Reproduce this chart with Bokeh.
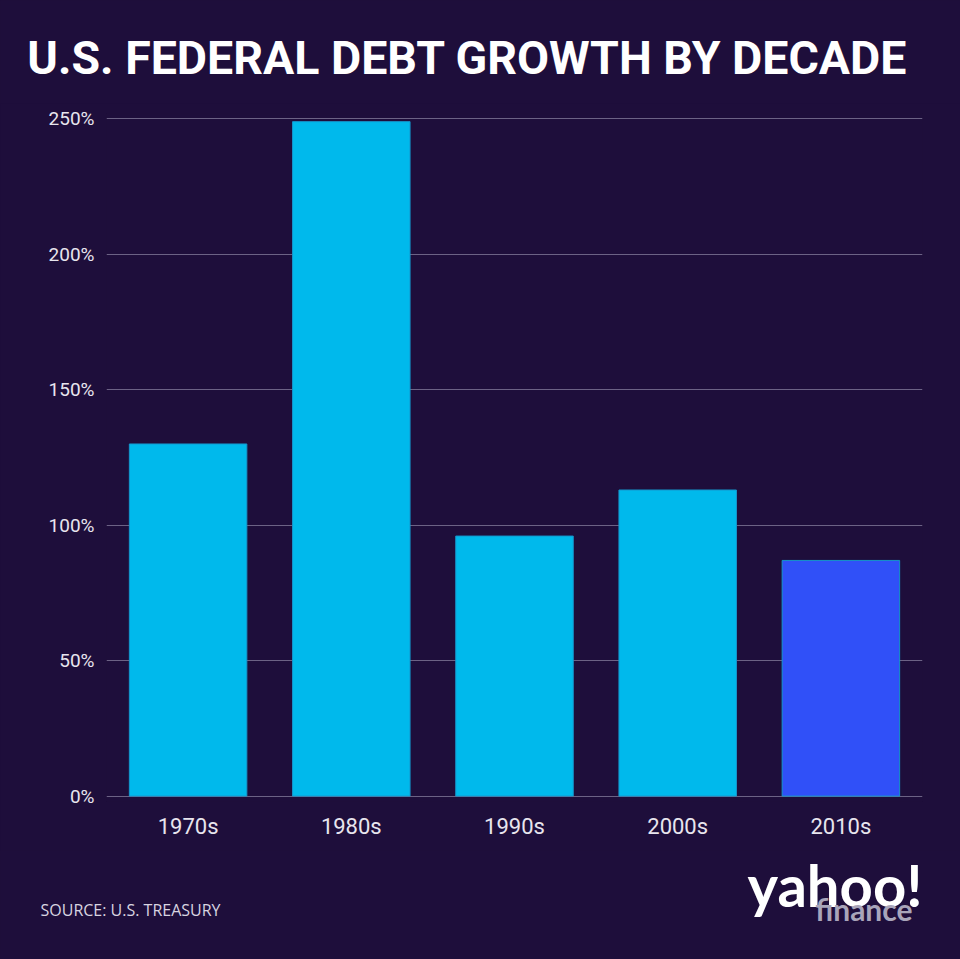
from bokeh.plotting import figure
from bokeh.layouts import column, row
from bokeh.models import Range1d, FixedTicker, CustomJSTickFormatter
from bokeh.core.properties import value
from bokeh.embed import file_html
from bokeh.resources import INLINE

decades = ["1970s", "1980s", "1990s", "2000s", "2010s"]
growth = [130, 249, 96, 113, 87]
bar_colors = ["#00b9ec", "#00b9ec", "#00b9ec", "#00b9ec", "#3050f8"]
y_ticks = [0, 50, 100, 150, 200, 250]

BG = "#1e0e3b"
W = 960
xpos = [i + 0.5 for i in range(len(decades))]
bgstyle = {"background-color": BG}


def blank(h):
    f = figure(width=W, height=h, x_range=Range1d(0, W), y_range=Range1d(0, h),
               output_backend="svg", toolbar_location=None, min_border=0,
               background_fill_color=BG, border_fill_color=BG, outline_line_color=None,
               styles=bgstyle)
    f.axis.visible = False
    f.grid.visible = False
    return f


# title band
top = blank(103)
top.text(x=[467], y=[46], text=["U.S. FEDERAL DEBT GROWTH BY DECADE"],
         text_align="center", text_baseline="middle", text_color="white",
         text_font=value("Roboto"), text_font_style="bold", text_font_size="46.5px")

# main chart
p = figure(width=W, height=747, x_range=Range1d(0, len(decades)),
           y_range=Range1d(-2, 252), output_backend="svg", toolbar_location=None,
           min_border_left=106, min_border_right=38, min_border_top=10, min_border_bottom=49,
           background_fill_color=BG, border_fill_color=BG, outline_line_color=None,
           styles=bgstyle)
p.grid.visible = False
g = p.hspan(y=y_ticks, line_color="#6c6285", line_width=1)
g.level = "underlay"
p.vbar(x=xpos, top=growth, width=0.72, bottom=0, fill_color=bar_colors,
       line_color="#1596cc", line_width=1)

p.yaxis.ticker = FixedTicker(ticks=y_ticks)
p.yaxis.formatter = CustomJSTickFormatter(code="return tick + '%'")
p.xaxis.ticker = FixedTicker(ticks=xpos)
p.xaxis.major_label_overrides = {x: d for x, d in zip(xpos, decades)}

for ax in (p.xaxis, p.yaxis):
    ax.axis_line_color = None
    ax.major_tick_line_color = None
    ax.minor_tick_line_color = None
    ax.major_tick_out = 0
    ax.major_tick_in = 0
    ax.major_label_text_color = "#e8e5ee"
    ax.major_label_text_font = "Roboto"

p.yaxis.major_label_text_font_size = "19px"
p.yaxis.major_label_standoff = 12
p.xaxis.major_label_text_font_size = "22px"
p.xaxis.major_label_standoff = 12

# footer
foot = blank(109)
foot.text(x=[40], y=[50], text=["SOURCE: U.S. TREASURY"], text_align="left", text_baseline="middle",
          text_color="#d8d4e0", text_font=value("Open Sans"), text_font_size="16px")
foot.text(x=[922], y=[75], text=["yahoo!"], text_align="right", text_baseline="middle",
          text_color="white", text_font=value("Lato"), text_font_style="bold", text_font_size="58px")
foot.text(x=[912], y=[51], text=["finance"], text_align="right", text_baseline="middle",
          text_color="#a9a5ba", text_font=value("Lato"), text_font_style="bold", text_font_size="30px")

layout = column(row(top, styles=bgstyle), p, row(foot, styles=bgstyle), spacing=0, styles=bgstyle)
open("out.html", "w").write(file_html(layout, INLINE))
